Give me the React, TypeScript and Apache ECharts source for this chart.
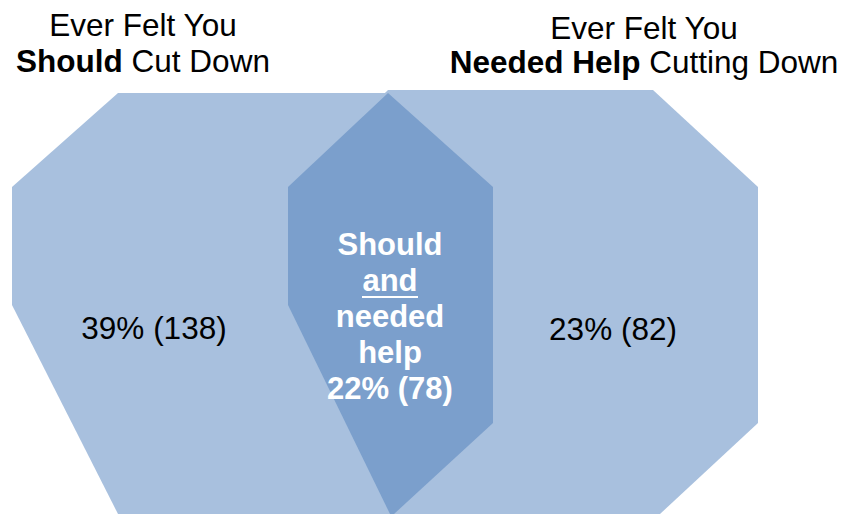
import React, { useEffect, useRef } from "react";
import * as echarts from "echarts";

// ---- data ----
const setTitlesTop = ["Ever Felt You", "Ever Felt You"];
const setTitlesBold = ["Should", "Needed Help"];
const setTitlesRest = [" Cut Down", " Cutting Down"];
const regionNames = ["Should only", "Should and needed help", "Needed help only"];
const regionPercents = [39, 22, 23];
const regionCounts = [138, 78, 82];
const overlapWords = ["Should", "and", "needed", "help"];

const FONT = "'Liberation Sans', Arial, Helvetica, sans-serif";
const LIGHT = "#a8c0de";
const DARK = "#7b9fcc";
const FS = 31.5;

const label = (i: number) => `${regionPercents[i]}% (${regionCounts[i]})`;

export default function App() {
  const ref = useRef<HTMLDivElement>(null);
  useEffect(() => {
    if (!ref.current) return;
    const chart = echarts.init(ref.current, null, { renderer: "svg" });

    const leftShape = [
      [118, 93], [388, 93], [493, 187], [493, 423], [394, 514],
      [118, 514], [12, 305], [12, 187],
    ];
    const rightShape = [
      [388, 90], [653, 90], [758, 187], [758, 423], [660, 514],
      [390, 514], [288, 305], [288, 187],
    ];
    const overlapShape = [
      [388, 93], [493, 187], [493, 423], [394, 514], [390, 514],
      [288, 305], [288, 187],
    ];

    const titleCenters = [143, 644];
    const titleY1 = [25, 28];
    const titleY2 = [61, 62];

    const graphics: any[] = [
      { type: "polygon", shape: { points: leftShape }, style: { fill: LIGHT } },
      { type: "polygon", shape: { points: rightShape }, style: { fill: LIGHT } },
      { type: "polygon", shape: { points: overlapShape }, style: { fill: DARK } },
    ];

    setTitlesTop.forEach((t, i) => {
      graphics.push({
        type: "text",
        x: titleCenters[i],
        y: titleY1[i],
        style: {
          text: t,
          font: `${FS}px ${FONT}`,
          fill: "#000",
          align: "center",
          verticalAlign: "middle",
        },
      });
      graphics.push({
        type: "text",
        x: titleCenters[i],
        y: titleY2[i],
        style: {
          text: `{b|${setTitlesBold[i]}}{r|${setTitlesRest[i]}}`,
          align: "center",
          verticalAlign: "middle",
          rich: {
            b: { fontFamily: FONT, fontSize: FS, fontWeight: "bold", fill: "#000", color: "#000" },
            r: { fontFamily: FONT, fontSize: FS, fill: "#000", color: "#000" },
          },
        },
      });
    });

    // side region labels
    graphics.push({
      type: "text",
      x: 154,
      y: 328,
      style: { text: label(0), font: `${FS}px ${FONT}`, fill: "#000", align: "center", verticalAlign: "middle" },
    });
    graphics.push({
      type: "text",
      x: 613,
      y: 329,
      style: { text: label(2), font: `${FS}px ${FONT}`, fill: "#000", align: "center", verticalAlign: "middle" },
    });

    // overlap label
    const overlapLines = [...overlapWords, label(1)];
    const lineYs = [244, 280, 316, 352, 388];
    overlapLines.forEach((t, i) => {
      graphics.push({
        type: "text",
        x: 390,
        y: lineYs[i],
        style: {
          text: t,
          font: `bold 31px ${FONT}`,
          fill: "#fff",
          align: "center",
          verticalAlign: "middle",
        },
      });
    });
    graphics.push({
      type: "line",
      shape: { x1: 362, y1: 297, x2: 418, y2: 297 },
      style: { stroke: "#fff", lineWidth: 2 },
    });

    chart.setOption({
      animation: false,
      title: { show: false, text: regionNames.join(", ") },
      graphic: { elements: graphics },
    });
    return () => chart.dispose();
  }, []);

  return (
    <div
      ref={ref}
      style={{ position: "fixed", left: 0, top: 0, width: 846, height: 514, background: "#fff" }}
    />
  );
}
